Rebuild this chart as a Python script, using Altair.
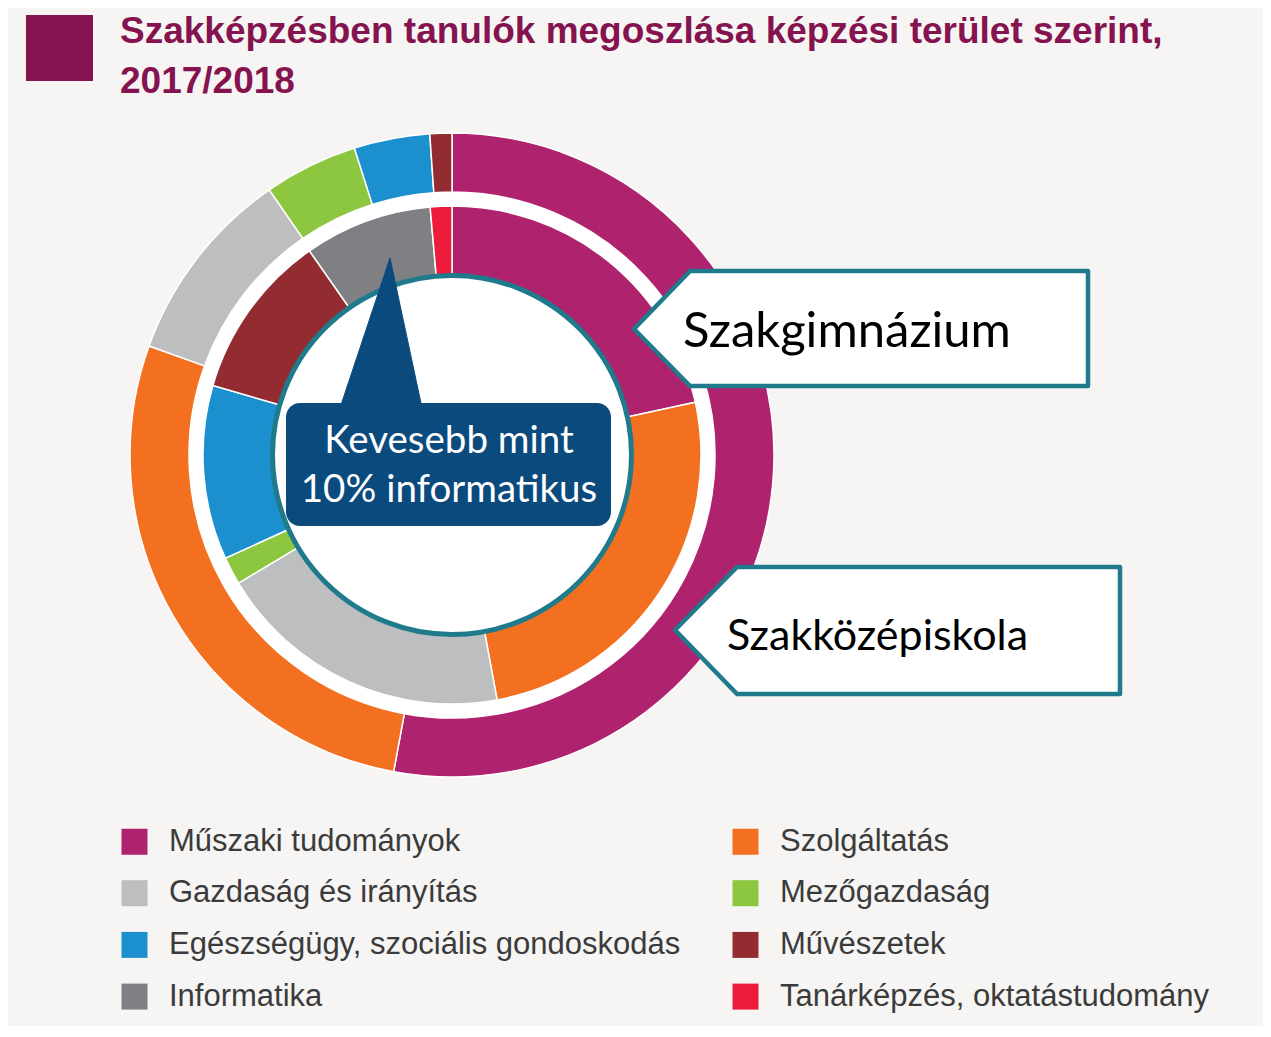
import altair as alt
import pandas as pd

# ---- data -------------------------------------------------------------
categories = [
    "Műszaki tudományok",
    "Szolgáltatás",
    "Gazdaság és irányítás",
    "Mezőgazdaság",
    "Egészségügy, szociális gondoskodás",
    "Művészetek",
    "Informatika",
    "Tanárképzés, oktatástudomány",
]
colors = ["#AF226D", "#F37021", "#BCBEC0", "#8DC63F", "#1C8FCF", "#922C30", "#7F8083", "#ED1C3A"]

# inner ring: Szakgimnázium (%)
inner_values = [21.6, 25.5, 19.3, 1.8, 11.3, 10.8, 8.3, 1.4]
# outer ring: Szakközépiskola (%)
outer_values = [52.9, 27.6, 9.9, 4.7, 3.8, 1.1]

title_lines = ["Szakképzésben tanulók megoszlása képzési terület szerint,", "2017/2018"]
callout_inner = "Szakgimnázium"
callout_outer = "Szakközépiskola"
center_lines = ["Kevesebb mint", "10% informatikus"]

# legend is filled column by column: left column first
legend_order = [categories[i] for i in (0, 2, 4, 6, 1, 3, 5, 7)]
color_of = dict(zip(categories, colors))

# ---- layout constants --------------------------------------------------
W, H = 1255, 1018
CX, CY = 444, 447
BG = "#F6F5F3"
TEAL = "#1F7A8C"
NAVY = "#0A4A7D"
TITLE_C = "#85134F"
SANS = "Liberation Sans, Arial, sans-serif"
CAL = "Lato, Open Sans, sans-serif"

inner_df = pd.DataFrame({"cat": categories, "v": inner_values, "idx": list(range(len(inner_values)))})
outer_df = pd.DataFrame({"cat": categories[:len(outer_values)], "v": outer_values,
                         "idx": list(range(len(outer_values)))})

scale = alt.Scale(domain=legend_order, range=[color_of[c] for c in legend_order])
color = alt.Color(
    "cat:N",
    scale=scale,
    legend=alt.Legend(
        orient="none", legendX=111, legendY=818, columns=2, title=None,
        symbolType="square", symbolSize=676, symbolStrokeWidth=0, symbolOpacity=1,
        labelFont=SANS, labelFontSize=31, labelColor="#3B3B3B", labelOffset=19,
        labelLimit=0, rowPadding=19.7, columnPadding=49, padding=0,
    ),
)

one = pd.DataFrame({"a": [0]})

backdisk = alt.Chart(one).mark_point(
    shape="circle", size=(2 * 264) ** 2, filled=True, fill="white", opacity=1, strokeWidth=0,
).encode(x=alt.value(CX), y=alt.value(CY))

outer = alt.Chart(outer_df).mark_arc(radius=322, radius2=263, stroke="white", strokeWidth=1.5).encode(
    theta=alt.Theta("v:Q", stack=True),
    color=color,
    order=alt.Order("idx:Q"),
    x=alt.value(CX), y=alt.value(CY),
)
inner = alt.Chart(inner_df).mark_arc(radius=249, radius2=178, stroke="white", strokeWidth=1.5).encode(
    theta=alt.Theta("v:Q", stack=True),
    color=alt.Color("cat:N", scale=scale, legend=None),
    order=alt.Order("idx:Q"),
    x=alt.value(CX), y=alt.value(CY),
)

circle = alt.Chart(one).mark_point(
    shape="circle", size=(2 * 179.5) ** 2, filled=True, fill="white", opacity=1,
    stroke=TEAL, strokeWidth=5,
).encode(x=alt.value(CX), y=alt.value(CY))

# title
title_sq = alt.Chart(one).mark_rect(color=TITLE_C).encode(
    x=alt.value(18), x2=alt.value(85), y=alt.value(7), y2=alt.value(73))
title_df = pd.DataFrame({"t": title_lines, "i": [0, 1]})
title_txt = alt.Chart(title_df).mark_text(
    align="left", baseline="alphabetic", font=SANS, fontSize=37, fontWeight="bold", color=TITLE_C,
).encode(
    x=alt.value(112),
    y=alt.Y("i:Q", scale=alt.Scale(domain=[0, 1], range=[35, 85]), axis=None),
    text="t:N",
)


def poly(points):
    ring = [list(p) for p in points] + [list(points[0])]
    return {"type": "Feature", "properties": {}, "geometry": {"type": "Polygon", "coordinates": [ring]}}


PROJ = dict(type="identity", scale=1, translate=[0, 0])

box1 = alt.Chart(alt.Data(values=[poly([(682, 263), (1080, 263), (1080, 378), (682, 378), (626, 321)])])).mark_geoshape(
    fill="white", stroke=TEAL, strokeWidth=4.5, strokeJoin="round").project(**PROJ)
box2 = alt.Chart(alt.Data(values=[poly([(729, 559), (1112, 559), (1112, 686), (729, 686), (667, 622)])])).mark_geoshape(
    fill="white", stroke=TEAL, strokeWidth=4.5, strokeJoin="round").project(**PROJ)

txt1 = alt.Chart(pd.DataFrame({"t": [callout_inner]})).mark_text(
    align="left", baseline="alphabetic", font=CAL, fontSize=49, color="#000000").encode(
    x=alt.value(675), y=alt.value(339), text="t:N")
txt2 = alt.Chart(pd.DataFrame({"t": [callout_outer]})).mark_text(
    align="left", baseline="alphabetic", font=CAL, fontSize=43, color="#000000").encode(
    x=alt.value(719), y=alt.value(642), text="t:N")

pointer = alt.Chart(alt.Data(values=[poly([(382, 250), (414, 400), (332, 400)])])).mark_geoshape(
    fill=NAVY, stroke=NAVY, strokeWidth=1).project(**PROJ)
navy_box = alt.Chart(one).mark_rect(color=NAVY, cornerRadius=14).encode(
    x=alt.value(278), x2=alt.value(603), y=alt.value(395), y2=alt.value(518))
center_df = pd.DataFrame({"t": center_lines, "i": [0, 1]})
center_txt = alt.Chart(center_df).mark_text(
    align="center", baseline="alphabetic", font=CAL, fontSize=38.5, color="white").encode(
    x=alt.value(441),
    y=alt.Y("i:Q", scale=alt.Scale(domain=[0, 1], range=[445, 494]), axis=None),
    text="t:N",
)

chart = alt.layer(
    backdisk, outer, inner, circle, title_sq, title_txt, box1, box2, txt1, txt2, pointer, navy_box, center_txt
).resolve_scale(theta="independent", y="independent").properties(
    width=W, height=H, autosize=alt.AutoSizeParams(type="none"), padding=0, background=BG,
).configure_view(stroke=None)

chart.save("out.html", embed_options={"renderer": "svg", "actions": False})
